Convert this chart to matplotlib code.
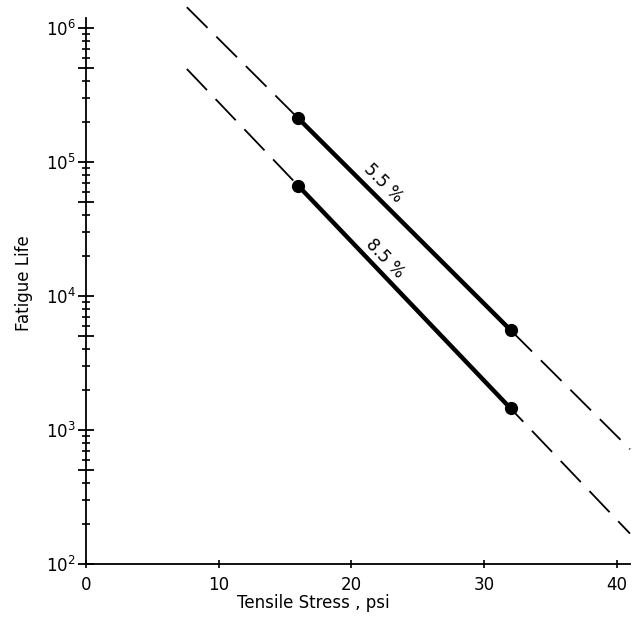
import numpy as np
import matplotlib
matplotlib.use("Agg")
import matplotlib.pyplot as plt
from matplotlib.ticker import FixedLocator, FuncFormatter, NullFormatter

plt.rcParams['font.family'] = ['DejaVu Sans']
plt.rcParams['lines.scale_dashes'] = False

# Data
stress_measured = [16, 32]
life_55 = [2.12e5, 5.57e3]
life_85 = [6.65e4, 1.45e3]
stress_extrap = [7.6, 41]
series_labels = ["5.5 %", "8.5 %"]

x_ticks = [0, 10, 20, 30, 40]
y_decades = [1e2, 1e3, 1e4, 1e5, 1e6]

fig = plt.figure(figsize=(6.4, 6.21), dpi=100)
ax = fig.add_axes([86/640, 1-564/621, (630-86)/640, (564-18)/621])
ax.set_yscale('log')
ax.set_xlim(0, 41)
ax.set_ylim(1e2, 1.19e6)

def extrap(xs, ys, xnew):
    lx = np.log10(ys)
    slope = (lx[1]-lx[0])/(xs[1]-xs[0])
    return [10**(lx[0] + slope*(x - xs[0])) for x in xnew]

for life in (life_55, life_85):
    ye = extrap(stress_measured, life, stress_extrap)
    ax.plot(stress_extrap, ye, color='black', lw=1.3, dashes=(21, 9),
            clip_on=False)
    ax.plot(stress_measured, life, color='black', lw=3.2, marker='o',
            markersize=8.5, solid_capstyle='butt')

ax.text(22.4, 6.97e4, series_labels[0], rotation=-45, ha='center', va='center',
        fontsize=12, rotation_mode='anchor')
ax.text(22.5, 1.92e4, series_labels[1], rotation=-46, ha='center', va='center',
        fontsize=12, rotation_mode='anchor')

for s in ['top', 'right']:
    ax.spines[s].set_visible(False)
for s in ['left', 'bottom']:
    ax.spines[s].set_linewidth(1.3)

ax.set_xticks(x_ticks)
ax.set_xticklabels([str(v) for v in x_ticks], fontsize=12)
ax.tick_params(axis='x', direction='inout', length=6, width=1.2, pad=6)

major = []
minor = []
for d in y_decades:
    major.append(d)
    if d < 1e6:
        major.append(5*d)
        minor.extend([k*d for k in (2, 3, 4, 6, 7, 8, 9)])
ax.yaxis.set_major_locator(FixedLocator(major))
ax.yaxis.set_minor_locator(FixedLocator(minor))
ax.yaxis.set_minor_formatter(NullFormatter())

def yfmt(v, pos):
    e = np.log10(v)
    if abs(e - round(e)) < 1e-6:
        return r'$10^{%d}$' % round(e)
    return ''
ax.yaxis.set_major_formatter(FuncFormatter(yfmt))
ax.tick_params(axis='y', which='major', direction='inout', length=11, width=1.3,
               labelsize=12, pad=2)
ax.tick_params(axis='y', which='minor', direction='inout', length=6, width=1.2)

ax.set_xlabel('Tensile Stress , psi', fontsize=12, labelpad=2)
ax.xaxis.set_label_coords((313-86)/544, -0.055)
ax.set_ylabel('Fatigue Life', fontsize=12, labelpad=10)
ax.yaxis.set_label_coords(-0.097, (564-283)/546)

fig.savefig('out.png', dpi=100)
